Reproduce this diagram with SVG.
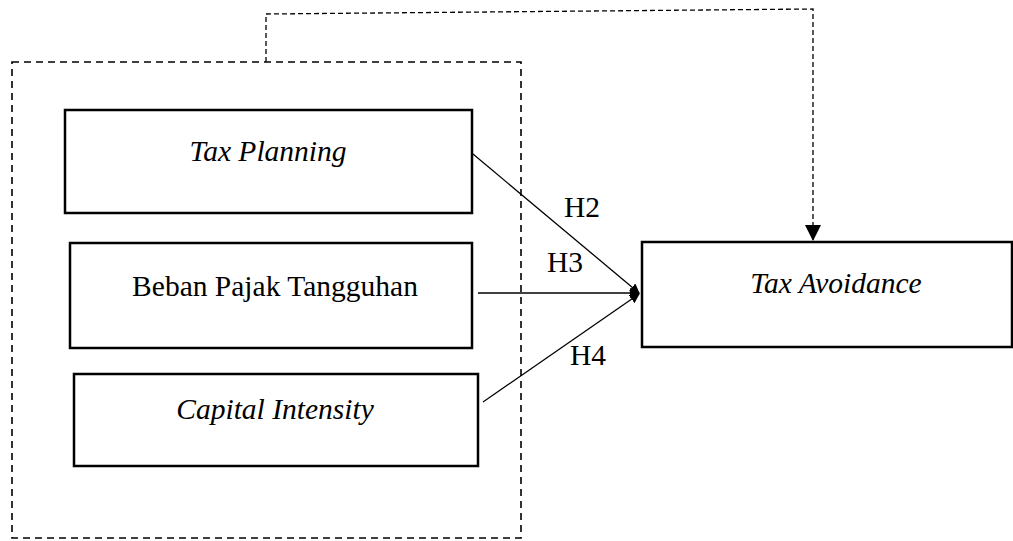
<svg xmlns="http://www.w3.org/2000/svg" width="1013" height="541" viewBox="0 0 1013 541">
<style>
.box{fill:#fff;stroke:#000;stroke-width:2.5}
.dash{fill:none;stroke:#000;stroke-width:1.6;stroke-dasharray:7,5}
.dash2{fill:none;stroke:#000;stroke-width:1.3;stroke-dasharray:5,3}
.ln{stroke:#000;stroke-width:1.3;fill:none}
.t{font-family:'Liberation Serif','Times New Roman',serif;font-size:29.5px;fill:#000}
.it{font-style:italic}
</style>
<defs>
<marker id="ah" markerWidth="10" markerHeight="10" refX="9" refY="5" orient="auto" markerUnits="userSpaceOnUse">
<path d="M0,0 L10,5 L0,10 Z" fill="#000"/>
</marker>
<marker id="ah2" markerWidth="16" markerHeight="16" refX="15" refY="8" orient="auto" markerUnits="userSpaceOnUse">
<path d="M0,0 L16,8 L0,16 Z" fill="#000"/>
</marker>
</defs>
<g id="group-box">
<rect x="12" y="62" width="509" height="476" class="dash"/>
</g>
<g id="tax-planning">
<rect x="65" y="110" width="407" height="103" class="box"/>
<text x="268" y="161" text-anchor="middle" class="t it">Tax Planning</text>
</g>
<g id="beban-pajak">
<rect x="70" y="243" width="402" height="105" class="box"/>
<text x="275" y="296" text-anchor="middle" class="t">Beban Pajak Tangguhan</text>
</g>
<g id="capital-intensity">
<rect x="74" y="374" width="404" height="92" class="box"/>
<text x="275" y="419" text-anchor="middle" class="t it">Capital Intensity</text>
</g>
<g id="tax-avoidance">
<rect x="642" y="242" width="370" height="105" class="box"/>
<text x="836" y="293" text-anchor="middle" class="t it">Tax Avoidance</text>
</g>
<g id="connectors">
<line x1="473" y1="154" x2="639" y2="293" class="ln" marker-end="url(#ah)"/>
<line x1="478" y1="293" x2="639" y2="293" class="ln" marker-end="url(#ah)"/>
<line x1="483" y1="402" x2="639" y2="294" class="ln" marker-end="url(#ah)"/>
<polyline points="266,62 266,14 813,9 813,240" class="dash2" marker-end="url(#ah2)"/>
<text x="564" y="217" class="t">H2</text>
<text x="547" y="272" class="t">H3</text>
<text x="570" y="365" class="t">H4</text>
</g>
</svg>
